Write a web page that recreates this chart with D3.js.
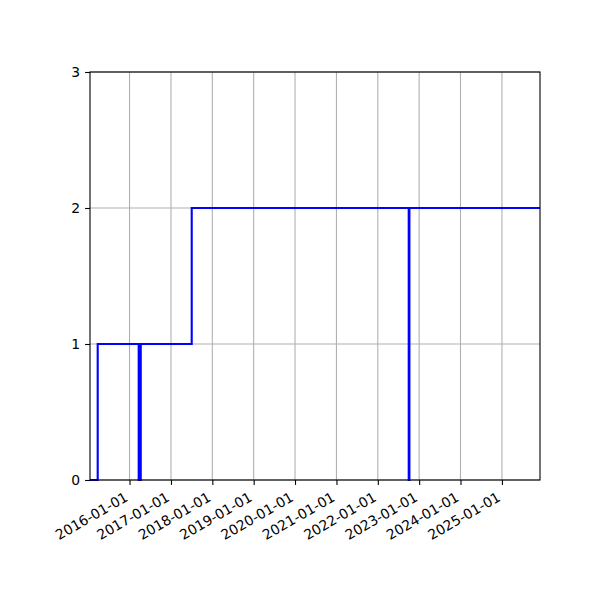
<!DOCTYPE html>
<html>
<head>
<meta charset="utf-8">
<script src="https://cdn.jsdelivr.net/npm/d3@7"></script>
<style>
  body { margin: 0; background: #fff; }
  text { font-family: "DejaVu Sans", sans-serif; }
</style>
</head>
<body>
<svg id="chart"></svg>
<script>
var w = 600
var h = 600
var margins = {left: 90, top: 72, right: 60, bottom: 120}
var graphDim = {width: w - margins.left - margins.right, height: h - margins.top - margins.bottom}

// step series (value holds from this date until the next one)
var stepDates = ["2015-01-17", "2015-03-26", "2016-03-22", "2016-04-09", "2017-07-03",
                 "2022-10-01", "2022-10-07", "2025-12-03"]
var stepValues = [0, 1, 0, 1, 2, 0, 2, 2]
var xRange = ["2015-01-17", "2025-12-03"]
var yTicks = [0, 1, 2, 3]
var xTickYears = ["2016-01-01", "2017-01-01", "2018-01-01", "2019-01-01", "2020-01-01",
                  "2021-01-01", "2022-01-01", "2023-01-01", "2024-01-01", "2025-01-01"]

var parse = d3.timeParse("%Y-%m-%d")
var fmt = d3.timeFormat("%Y-%m-%d")

var points = stepDates.map(function(d, i) { return {date: parse(d), value: stepValues[i]} })

var svg = d3.select("#chart")
  .attr("width", w)
  .attr("height", h)

var target = svg.append("g")
  .attr("transform", "translate(" + margins.left + "," + margins.top + ")")

var xScale = d3.scaleTime()
  .domain(xRange.map(parse))
  .range([0, graphDim.width])

var yScale = d3.scaleLinear()
  .domain([0, 3])
  .range([graphDim.height, 0])

var xTickDates = xTickYears.map(parse)

// grid
target.append("g")
  .selectAll("line.vgrid")
  .data(xTickDates)
  .enter()
  .append("line")
  .attr("x1", function(d) { return xScale(d) })
  .attr("x2", function(d) { return xScale(d) })
  .attr("y1", 0)
  .attr("y2", graphDim.height)
  .attr("stroke", "#b0b0b0")
  .attr("stroke-width", 1.1)

target.append("g")
  .selectAll("line.hgrid")
  .data(yTicks)
  .enter()
  .append("line")
  .attr("x1", 0)
  .attr("x2", graphDim.width)
  .attr("y1", function(d) { return yScale(d) })
  .attr("y2", function(d) { return yScale(d) })
  .attr("stroke", "#b0b0b0")
  .attr("stroke-width", 1.1)

// the step line
var line = d3.line()
  .x(function(d) { return xScale(d.date) })
  .y(function(d) { return yScale(d.value) })
  .curve(d3.curveStepAfter)

target.append("path")
  .datum(points)
  .attr("d", line)
  .attr("fill", "none")
  .attr("stroke", "#0000ff")
  .attr("stroke-width", 2.1)
  .attr("stroke-linejoin", "miter")
  .attr("stroke-linecap", "butt")

// axes
var xAxis = d3.axisBottom(xScale)
  .tickValues(xTickDates)
  .tickFormat(fmt)
  .tickSize(4.9)
  .tickSizeOuter(0)

var gx = target.append("g")
  .attr("transform", "translate(0," + graphDim.height + ")")
  .call(xAxis)

gx.select(".domain").remove()
gx.selectAll(".tick line").attr("stroke", "#000").attr("stroke-width", 1.1)
gx.selectAll(".tick text")
  .attr("fill", "#000")
  .style("font-size", "13.9px")
  .attr("text-anchor", "end")
  .attr("y", 0)
  .attr("dy", 0)
  .attr("transform", "translate(-1,20) rotate(-30)")

var yAxis = d3.axisLeft(yScale)
  .tickValues(yTicks)
  .tickFormat(d3.format("d"))
  .tickSize(4.9)
  .tickPadding(4.9)
  .tickSizeOuter(0)

var gy = target.append("g").call(yAxis)
gy.select(".domain").remove()
gy.selectAll(".tick line").attr("stroke", "#000").attr("stroke-width", 1.1)
gy.selectAll(".tick text")
  .attr("fill", "#000")
  .style("font-size", "13.9px")

// frame
target.append("rect")
  .attr("x", 0)
  .attr("y", 0)
  .attr("width", graphDim.width)
  .attr("height", graphDim.height)
  .attr("fill", "none")
  .attr("stroke", "#000")
  .attr("stroke-width", 1.1)
</script>
</body>
</html>
